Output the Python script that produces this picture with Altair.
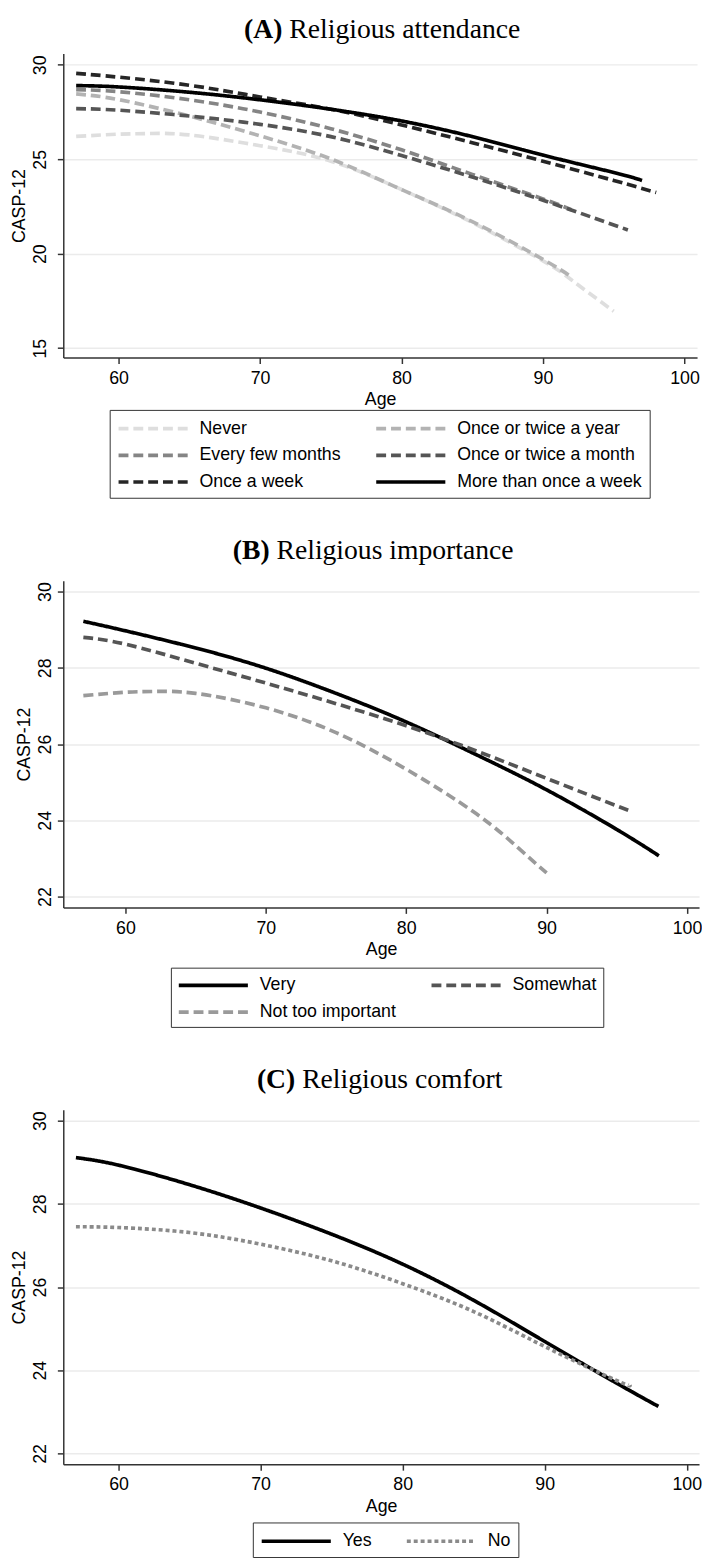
import altair as alt
import pandas as pd

# ---------------- Panel A: Religious attendance ----------------
A_SERIES = ["Never", "Once or twice a year", "Every few months",
            "Once or twice a month", "Once a week", "More than once a week"]
A_COLORS = ["#dedede", "#b3b3b3", "#858585", "#555555", "#262626", "#000000"]
A_DASHES = [[10, 5], [10, 5], [10, 5], [10, 5], [10, 5], [1, 0]]

A_NEVER_AGE = [57, 60, 62, 65, 70, 75, 80, 85, 90, 92, 95]
A_NEVER_VAL = [26.21, 26.33, 26.36, 26.29, 25.72, 24.9, 23.4, 21.65, 19.62, 18.62, 16.95]
A_YEAR_AGE = [57, 60, 65, 70, 75, 80, 85, 90, 92]
A_YEAR_VAL = [28.46, 28.16, 27.29, 26.24, 25.02, 23.4, 21.7, 19.7, 18.78]
A_MONTHS_AGE = [57, 60, 65, 70, 75, 80, 85, 90, 92]
A_MONTHS_VAL = [28.69, 28.58, 28.15, 27.5, 26.62, 25.5, 24.2, 22.9, 22.33]
A_MONTH_AGE = [57, 60, 65, 70, 75, 80, 85, 90, 96]
A_MONTH_VAL = [27.68, 27.6, 27.29, 26.85, 26.2, 25.2, 24.06, 22.83, 21.26]
A_WEEK_AGE = [57, 60, 65, 70, 75, 80, 85, 90, 95, 98]
A_WEEK_VAL = [29.55, 29.35, 28.92, 28.3, 27.65, 26.82, 25.88, 24.9, 23.88, 23.24]
A_MORE_AGE = [57, 60, 65, 70, 75, 80, 85, 90, 95, 97]
A_MORE_VAL = [28.9, 28.83, 28.55, 28.15, 27.65, 27.03, 26.2, 25.22, 24.3, 23.88]

# ---------------- Panel B: Religious importance ----------------
B_SERIES = ["Very", "Somewhat", "Not too important"]
B_COLORS = ["#000000", "#555555", "#9a9a9a"]
B_DASHES = [[1, 0], [10, 5], [10, 5]]
B_VERY_AGE = [57, 60, 65, 70, 75, 80, 85, 90, 95, 98]
B_VERY_VAL = [29.22, 28.97, 28.52, 27.99, 27.33, 26.58, 25.72, 24.8, 23.76, 23.07]
B_SOME_AGE = [57, 60, 65, 70, 75, 80, 85, 90, 95, 96]
B_SOME_VAL = [28.8, 28.62, 28.12, 27.6, 27.06, 26.48, 25.82, 25.1, 24.38, 24.24]
B_NOT_AGE = [57, 60, 62, 65, 70, 75, 80, 85, 88, 90]
B_NOT_VAL = [27.27, 27.36, 27.38, 27.33, 26.95, 26.3, 25.34, 24.17, 23.27, 22.62]

# ---------------- Panel C: Religious comfort ----------------
C_SERIES = ["Yes", "No"]
C_COLORS = ["#000000", "#8a8a8a"]
C_DASHES = [[1, 0], [4, 3]]
C_YES_AGE = [57, 60, 65, 70, 75, 80, 85, 90, 95, 98]
C_YES_VAL = [29.11, 28.93, 28.46, 27.9, 27.27, 26.55, 25.68, 24.69, 23.7, 23.13]
C_NO_AGE = [57, 60, 65, 70, 75, 80, 85, 90, 95, 96]
C_NO_VAL = [27.45, 27.43, 27.31, 27.03, 26.63, 26.08, 25.41, 24.57, 23.76, 23.64]

X_TICKS = [60, 70, 80, 90, 100]
A_Y_TICKS = [15, 20, 25, 30]
BC_Y_TICKS = [22, 24, 26, 28, 30]


def frame(series, ages, vals):
    rows = []
    for s, a_list, v_list in zip(series, ages, vals):
        for a, v in zip(a_list, v_list):
            rows.append({"series": s, "age": a, "casp": v})
    return pd.DataFrame(rows)


dfA = frame(A_SERIES,
            [A_NEVER_AGE, A_YEAR_AGE, A_MONTHS_AGE, A_MONTH_AGE, A_WEEK_AGE, A_MORE_AGE],
            [A_NEVER_VAL, A_YEAR_VAL, A_MONTHS_VAL, A_MONTH_VAL, A_WEEK_VAL, A_MORE_VAL])
dfB = frame(B_SERIES, [B_VERY_AGE, B_SOME_AGE, B_NOT_AGE], [B_VERY_VAL, B_SOME_VAL, B_NOT_VAL])
dfC = frame(C_SERIES, [C_YES_AGE, C_NO_AGE], [C_YES_VAL, C_NO_VAL])

SANS = "Liberation Sans"
SERIF = "Liberation Serif"
AXIS_COLOR = "#333333"
TITLE_SIZE = 28


def panel(df, series, colors, dashes, xdomain, ydomain, yticks, width, height,
          tag, title, tag_x, title_y, legend_x, legend_y, legend_pad,
          ylabel_pad, ytitle_pad, lw):
    legend = alt.Legend(
        orient="none", legendX=legend_x, legendY=legend_y, columns=2,
        direction="horizontal",
        title=None, symbolType="M-1,0H6", symbolSize=400,
        symbolStrokeWidth=lw, labelFont=SANS, labelFontSize=18,
        labelColor="black", labelOffset=60, columnPadding=27, rowPadding=6,
        padding=legend_pad, strokeColor=AXIS_COLOR, labelLimit=400,
    )
    xaxis = alt.Axis(
        values=X_TICKS, title="Age", grid=False,
        labelFont=SANS, labelFontSize=18, labelColor="black", labelPadding=6,
        titleFont=SANS, titleFontSize=18, titleFontWeight="normal",
        titleColor="black", titlePadding=4,
        tickSize=6, tickColor=AXIS_COLOR, tickWidth=1.5,
        domainColor=AXIS_COLOR, domainWidth=1.5,
    )
    yaxis = alt.Axis(
        values=yticks, title="CASP-12", grid=True, gridColor="#ebebeb",
        gridWidth=1.5, labelFont=SANS, labelFontSize=18, labelColor="black",
        labelAngle=270, labelAlign="center", labelBaseline="bottom",
        labelPadding=ylabel_pad,
        titleFont=SANS, titleFontSize=18, titleFontWeight="normal",
        titleColor="black", titlePadding=ytitle_pad,
        tickSize=6, tickColor=AXIS_COLOR, tickWidth=1.5,
        domainColor=AXIS_COLOR, domainWidth=1.5,
    )
    lines = alt.Chart(df).mark_line(strokeWidth=lw, interpolate="natural",
                                    strokeCap="butt").encode(
        x=alt.X("age:Q", scale=alt.Scale(domain=xdomain, nice=False, zero=False), axis=xaxis),
        y=alt.Y("casp:Q", scale=alt.Scale(domain=ydomain, nice=False, zero=False), axis=yaxis),
        color=alt.Color("series:N", scale=alt.Scale(domain=series, range=colors), legend=legend),
        strokeDash=alt.StrokeDash("series:N", scale=alt.Scale(domain=series, range=dashes), legend=legend),
        order=alt.Order("age:Q"),
    )
    tag_mark = alt.Chart(pd.DataFrame({"t": [tag]})).mark_text(
        font=SERIF, fontSize=TITLE_SIZE, fontWeight="bold", align="right",
        baseline="top", color="black",
    ).encode(text="t:N", x=alt.value(tag_x), y=alt.value(title_y))
    title_mark = alt.Chart(pd.DataFrame({"t": [title]})).mark_text(
        font=SERIF, fontSize=TITLE_SIZE, fontWeight="normal", align="left",
        baseline="top", color="black",
    ).encode(text="t:N", x=alt.value(tag_x + 7), y=alt.value(title_y))
    return alt.layer(lines, tag_mark, title_mark).properties(width=width, height=height)


pA = panel(dfA, A_SERIES, A_COLORS, A_DASHES, [56.09, 100.89], [14.5, 30.6], A_Y_TICKS, 642, 308,
           "(A)", "Religious attendance", 222, -38, 47, 361, 7, 8, 3, 3.7)
pB = panel(dfB, B_SERIES, B_COLORS, B_DASHES, [55.57, 100.86], [21.715, 30.285], BC_Y_TICKS, 644, 331,
           "(B)", "Religious importance", 209, -44, 109, 392, 6, 3, 3, 3.7)
pC = panel(dfC, C_SERIES, C_COLORS, C_DASHES, [56.11, 100.86], [21.74, 30.26], BC_Y_TICKS, 644, 359,
           "(C)", "Religious comfort", 235, -44, 192, 418, 7, 8, 3, 3.7)

chart = alt.vconcat(pA, pB, pC, spacing=39).resolve_scale(
    color="independent", strokeDash="independent", x="independent", y="independent"
).configure_view(stroke=None).properties(
    padding={"left": 3, "top": -2, "right": 0, "bottom": 0}, background="white"
)

chart.save("out.html", embed_options={"renderer": "svg", "actions": False})
